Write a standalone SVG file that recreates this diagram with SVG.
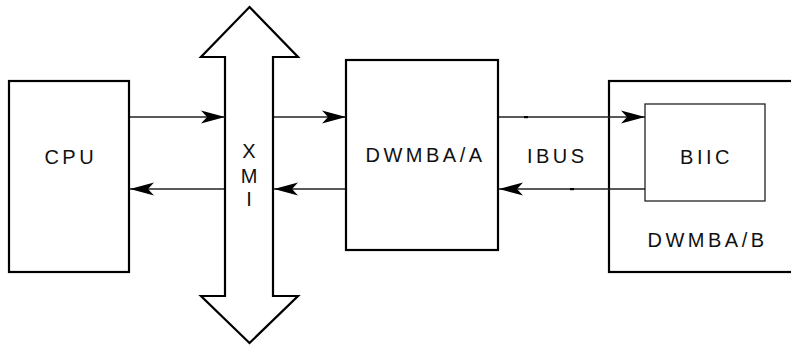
<svg xmlns="http://www.w3.org/2000/svg" width="791" height="345" viewBox="0 0 791 345">
<style>
.box{fill:#fff;stroke:#000;stroke-width:2.2}
.thin{fill:#fff;stroke:#222;stroke-width:1.3}
.ln{stroke:#222;stroke-width:1.3;fill:none}
.lbl{font-family:"Liberation Sans",Arial,sans-serif;font-size:20px;letter-spacing:3.5px;fill:#111;text-anchor:middle}
</style>
<defs>
<marker id="ah" markerUnits="userSpaceOnUse" markerWidth="26" markerHeight="14" viewBox="-25 -7 26 14" refX="0" refY="0" orient="auto">
<path d="M0,0 L-24,-6.5 L-18,0 L-24,6.5 Z" fill="#000"/>
</marker>
</defs>
<rect width="791" height="345" fill="#fff"/>
<g id="cpu">
<rect class="box" x="9" y="81" width="120" height="191"/>
<text class="lbl" x="70.75" y="163.5">CPU</text>
</g>
<g id="xmi">
<polygon class="box" points="249.5,7 298,57 273,57 273,296 298,296 249.5,343 201,296 225,296 225,57 201,57"/>
<text class="lbl" x="249" y="158" style="letter-spacing:0">X</text>
<text class="lbl" x="249" y="183" style="letter-spacing:0">M</text>
<text class="lbl" x="249" y="206" style="letter-spacing:0">I</text>
</g>
<g id="dwmba_a">
<rect class="box" x="346" y="60" width="152" height="190"/>
<text class="lbl" x="425.5" y="162">DWMBA/A</text>
</g>
<g id="dwmba_b">
<rect class="box" x="609" y="81" width="200" height="191"/>
<text class="lbl" x="707.5" y="247">DWMBA/B</text>
</g>
<g id="biic">
<rect class="thin" x="645" y="104" width="120" height="97"/>
<text class="lbl" x="706.5" y="164.3">BIIC</text>
</g>
<g id="ibus">
<text class="lbl" x="557.25" y="163">IBUS</text>
</g>
<g id="connectors">
<line class="ln" x1="130" y1="117" x2="225" y2="117" marker-end="url(#ah)"/>
<line class="ln" x1="224" y1="189" x2="130" y2="189" marker-end="url(#ah)"/>
<line class="ln" x1="274" y1="117" x2="346" y2="117" marker-end="url(#ah)"/>
<line class="ln" x1="345" y1="189" x2="274" y2="189" marker-end="url(#ah)"/>
<line class="ln" x1="499" y1="117" x2="645" y2="117" marker-end="url(#ah)"/>
<line class="ln" x1="645" y1="189" x2="499" y2="189" marker-end="url(#ah)"/>
<rect x="524" y="116" width="4" height="2.2" fill="#000"/>
<rect x="570" y="188" width="4" height="2.2" fill="#000"/>
</g>
</svg>
